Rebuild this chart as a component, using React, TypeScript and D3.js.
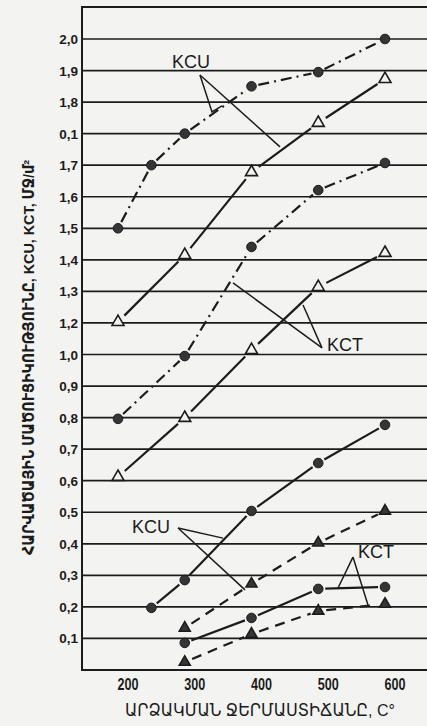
import { useEffect, useRef } from 'react';
import * as d3 from 'd3';

// row labels, bottom to top (the printed scale is not linear, each label is one row)
const rowLabels = ['0,1', '0,2', '0,3', '0,4', '0,5', '0,6', '0,7', '0,8', '0,9', '1,0',
  '1,2', '1,3', '1,4', '1,5', '1,6', '1,7', '0,1', '1,8', '1,9', '2,0'];
const tempTicks = [200, 300, 400, 500, 600];

// curves: temperature (C) and position in rows
const kcuTopT = [200, 250, 300, 400, 500, 600];
const kcuTopV = [14, 16, 17, 18.5, 18.95, 20];
const kctTopT = [200, 300, 400, 500, 600];
const kctTopV = [11.03, 13.15, 15.78, 17.34, 18.73];
const kcuMidT = [200, 300, 400, 500, 600];
const kcuMidV = [7.96, 9.95, 13.41, 15.21, 16.07];
const kctMidT = [200, 300, 400, 500, 600];
const kctMidV = [6.12, 7.99, 10.14, 12.14, 13.22];
const kcuLowT = [250, 300, 400, 500, 600];
const kcuLowV = [1.97, 2.85, 5.04, 6.56, 7.77];
const kctLowT = [300, 400, 500, 600];
const kctLowV = [1.33, 2.73, 4.03, 5.04];
const kcuBotT = [300, 400, 500, 600];
const kcuBotV = [0.86, 1.65, 2.57, 2.63];
const kctBotT = [300, 400, 500, 600];
const kctBotV = [0.25, 1.14, 1.87, 2.09];

// callouts: label position, apex and leader ends (temperature, row)
const callouts = [
  { text: 'KCU', at: [281, 19.08], apex: [322.8, 18.86], legs: [[[340.8, 17.69], [355.8, 17.88]], [[442.7, 16.58]]] },
  { text: 'KCT', at: [513, 10.12], apex: [505.6, 10.21], legs: [[[372.3, 12.27]], [[477.2, 11.57]]] },
  { text: 'KCU', at: [221, 4.34], apex: [289.9, 4.5], legs: [[[357.3, 4.18]], [[390.3, 2.54]]] },
  { text: 'KCT', at: [559.6, 3.55], apex: [552, 3.58], legs: [[[529.6, 2.6]], [[574.5, 2.06]]] },
];

const yTitle = 'ՀԱՐՎԱԾԱՅԻՆ ՄԱԾՈՒՑԻԿՈՒԹՅՈՒՆԸ, KCU, KCT, ՄՋ/մ²';
const xTitle = 'ԱՐՁԱԿՄԱՆ ՋԵՐՄԱՍՏԻՃԱՆԸ, C°';

const ink = '#1c1c1c';
const paper = '#f3f3f1';
const font = '"Liberation Sans", Arial, "DejaVu Sans", sans-serif';

function App() {
  const svgRef = useRef<SVGSVGElement>(null);

  useEffect(() => {
    const width = 427;
    const height = 726;
    const left = 82;
    const top = 7;

    const svg = d3.select(svgRef.current);
    svg.selectAll('*').remove();
    svg.attr('width', width).attr('height', height);

    svg.append('rect').attr('width', width).attr('height', height).attr('fill', paper);

    const x = d3.scaleLinear().domain([200, 600]).range([118, 385]);
    const y = d3.scaleLinear().domain([0, 20]).range([670, 39]);

    // grid rows
    svg.append('g')
      .selectAll('line')
      .data(rowLabels)
      .join('line')
      .attr('x1', left).attr('x2', width)
      .attr('y1', (d, i) => y(i + 1)).attr('y2', (d, i) => y(i + 1))
      .attr('stroke', ink).attr('stroke-width', 1.7);

    // frame
    svg.append('path')
      .attr('d', `M${width},${top}H${left}V${y(0)}H${width}`)
      .attr('fill', 'none').attr('stroke', ink).attr('stroke-width', 2);

    // y labels
    svg.append('g')
      .selectAll('text')
      .data(rowLabels)
      .join('text')
      .attr('x', 78)
      .attr('y', (d, i) => y(i + 1) + 5)
      .attr('text-anchor', 'end')
      .attr('font-family', font).attr('font-weight', 'bold').attr('font-size', 13.5)
      .attr('fill', ink)
      .text(d => d);

    // x labels
    svg.append('g')
      .selectAll('text')
      .data(tempTicks)
      .join('text')
      .attr('x', d => x(d) + 10)
      .attr('y', 690)
      .attr('text-anchor', 'middle')
      .attr('textLength', 21).attr('lengthAdjust', 'spacingAndGlyphs')
      .attr('font-family', font).attr('font-weight', 'bold').attr('font-size', 16)
      .attr('fill', ink)
      .text(d => d);

    svg.append('text')
      .attr('x', 125).attr('y', 716)
      .attr('textLength', 270).attr('lengthAdjust', 'spacingAndGlyphs')
      .attr('font-family', font).attr('font-size', 17)
      .attr('fill', ink)
      .text(xTitle);

    svg.append('text')
      .attr('transform', 'translate(34,555) rotate(-90)')
      .attr('textLength', 395).attr('lengthAdjust', 'spacingAndGlyphs')
      .attr('font-family', font).attr('font-weight', 'bold').attr('font-size', 15)
      .attr('fill', ink)
      .text(yTitle);

    const series = [
      { t: kcuTopT, v: kcuTopV, mark: 'dot', dash: '11,5,2,5' },
      { t: kctTopT, v: kctTopV, mark: 'open', dash: null },
      { t: kcuMidT, v: kcuMidV, mark: 'dot', dash: '11,5,2,5' },
      { t: kctMidT, v: kctMidV, mark: 'open', dash: null },
      { t: kcuLowT, v: kcuLowV, mark: 'dot', dash: null },
      { t: kctLowT, v: kctLowV, mark: 'tri', dash: '10,7' },
      { t: kcuBotT, v: kcuBotV, mark: 'dot', dash: null },
      { t: kctBotT, v: kctBotV, mark: 'tri', dash: '10,7' },
    ];

    const gapFor = { dot: 7, open: 9, tri: 8 };

    series.forEach(s => {
      const pts = s.t.map((t, i) => [x(t), y(s.v[i])]);
      const gap = gapFor[s.mark];
      const g = svg.append('g');

      // line pieces stop short of the markers
      for (let i = 0; i < pts.length - 1; i++) {
        const [x0, y0] = pts[i];
        const [x1, y1] = pts[i + 1];
        const len = Math.hypot(x1 - x0, y1 - y0);
        const ux = (x1 - x0) / len;
        const uy = (y1 - y0) / len;
        g.append('line')
          .attr('x1', x0 + ux * gap).attr('y1', y0 + uy * gap)
          .attr('x2', x1 - ux * gap).attr('y2', y1 - uy * gap)
          .attr('stroke', ink).attr('stroke-width', 2.2)
          .attr('stroke-dasharray', s.dash);
      }

      if (s.mark === 'dot') {
        g.selectAll('circle')
          .data(pts)
          .join('circle')
          .attr('cx', d => d[0]).attr('cy', d => d[1]).attr('r', 4.8)
          .attr('fill', '#353535').attr('stroke', ink).attr('stroke-width', 1);
      } else {
        const tri = d3.symbol(d3.symbolTriangle, s.mark === 'open' ? 62 : 52)();
        g.selectAll('path.m')
          .data(pts)
          .join('path')
          .attr('class', 'm')
          .attr('d', tri)
          .attr('transform', d => `translate(${d[0]},${d[1]})`)
          .attr('fill', s.mark === 'open' ? paper : '#353535')
          .attr('stroke', ink).attr('stroke-width', 1.6);
      }
    });

    // callouts
    callouts.forEach(c => {
      const g = svg.append('g');
      const ax = x(c.apex[0]);
      const ay = y(c.apex[1]);
      c.legs.forEach(leg => {
        const line = d3.line()([[ax, ay], ...leg.map(p => [x(p[0]), y(p[1])])]);
        g.append('path').attr('d', line)
          .attr('fill', 'none').attr('stroke', ink).attr('stroke-width', 1.5);
      });
      g.append('text')
        .attr('x', x(c.at[0])).attr('y', y(c.at[1]))
        .attr('font-family', font).attr('font-size', 18)
        .attr('fill', ink)
        .text(c.text);
    });
  }, []);

  return (
    <div>
      <svg ref={svgRef} style={{ position: 'absolute', left: 0, top: 0, display: 'block' }}></svg>
    </div>
  );
}

export default App;
